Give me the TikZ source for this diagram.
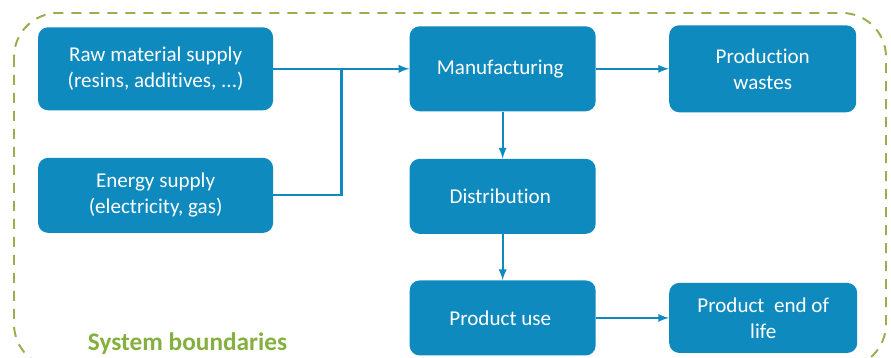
\documentclass[tikz,border=0pt]{standalone}
\usepackage{fontspec}
\setmainfont{Carlito}[Ligatures=NoCommon]
\usepackage{tikz}
\usetikzlibrary{positioning}
\definecolor{boxblue}{RGB}{14,138,190}
\definecolor{bordergreen}{RGB}{150,176,78}
\definecolor{labelgreen}{RGB}{132,176,62}
\tikzset{
	stage/.style={draw=none,
		fill=boxblue,
		rounded corners=0.25cm,
		text=white,
		align=center,
		minimum width=4.65cm,
		minimum height=1.875cm,
		font=\fontsize{15}{18.5}\selectfont
	},
	flow/.style={draw=boxblue, line width=1.6pt},
	flowarrow/.style={flow, -latex}
}

\begin{document}
\begin{tikzpicture}

\useasboundingbox (0,0) rectangle (22.275,-8.95);

% System boundary
\draw[bordergreen, line width=1.4pt, dash pattern=on 0.25cm off 0.2cm, rounded corners=1.1cm]
	(0.35,-0.325) rectangle (22.15,-9.2);

% Raw material supply
\node [stage,
	minimum width=5.875cm,
	minimum height=2.075cm
] (raw) at (3.89,-1.72) {
Raw material supply\\(resins, additives, ...)
};

% Energy supply
\node [stage,
	minimum width=5.875cm,
	below = 1.175cm of raw
] (energy) {
Energy supply\\(electricity, gas)
};

% Manufacturing
\node [stage,
	minimum height=2.125cm,
	right = 3.4cm of raw
] (manuf) {
Manufacturing
};

% Production wastes
\node [stage,
	minimum width=4.675cm,
	minimum height=2.175cm,
	right = 1.825cm of manuf
] (wastes) {
Production\\wastes
};

% Distribution
\node [stage,
	below = 1.175cm of manuf
] (distr) {
Distribution
};

% Product use
\node [stage,
	below = 1.15cm of distr
] (use) {
Product use
};

% Product end of life
\node [stage,
	minimum width=4.7cm,
	minimum height=1.75cm,
	right = 1.825cm of use
] (eol) {
Product~ end of\\life
};

% Label
\node [anchor=base west, text=labelgreen,
	font=\fontsize{18}{21}\selectfont\bfseries
] (sysb) at (2.075,-8.75) {System boundaries};

% Arrows
\coordinate (join) at ([xshift=1.7cm] raw.east);
\draw[flow] (energy.east) -| (join);
\draw[flowarrow] (raw.east) -- (manuf.west);
\draw[flowarrow] (manuf.east) -- (wastes.west);
\draw[flowarrow] (manuf.south) -- (distr.north);
\draw[flowarrow] (distr.south) -- (use.north);
\draw[flowarrow] (use.east) -- (eol.west);

\end{tikzpicture}
\end{document}
